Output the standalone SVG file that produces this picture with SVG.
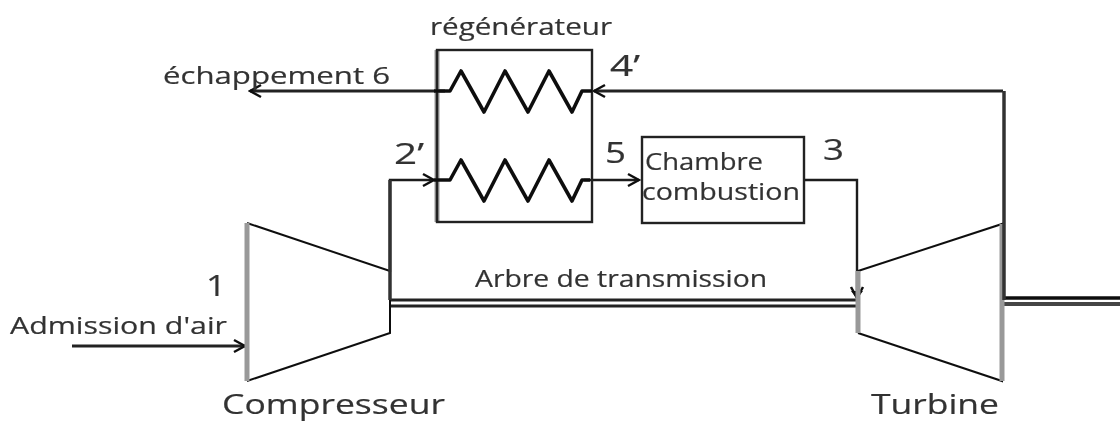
<svg xmlns="http://www.w3.org/2000/svg" width="1120" height="421" viewBox="0 0 1120 421">
<defs>
<marker id="a" markerUnits="userSpaceOnUse" markerWidth="16" markerHeight="16" refX="14" refY="8" orient="auto"><path d="M3 2L14 8L3 14" fill="none" stroke="#111" stroke-width="2.5"/></marker>
<filter id="b" x="0" y="0" width="1" height="1" filterUnits="objectBoundingBox"><feGaussianBlur stdDeviation=".55"/></filter>
</defs>
<style>
text{font-family:"Open Sans","Noto Sans","Liberation Sans",sans-serif;fill:#333;stroke:#333;stroke-width:.2}
.s{fill:none;stroke:#1a1a1a;stroke-width:2.4}
.m{fill:none;stroke:#222;stroke-width:3.2}
.g{fill:none;stroke:#999;stroke-width:5}
.z{fill:none;stroke:#111;stroke-width:3.6;stroke-linejoin:round}
</style>
<rect width="1120" height="421" fill="#fff"/>
<g filter="url(#b)">
<rect width="1120" height="421" fill="#fff"/>
<g id="connectors">
<path class="m" d="M1003 91H594" marker-end="url(#a)"/>
<path class="m" d="M445 91H250" marker-end="url(#a)"/>
<path class="s" d="M390 272V180H434" marker-end="url(#a)"/>
<path class="s" d="M584 180H639" marker-end="url(#a)"/>
<path class="s" d="M805 180H857V298" marker-end="url(#a)"/>
<path d="M851 291H863L857 299Z" fill="#111"/>
<path class="m" d="M72 346H245" marker-end="url(#a)"/>
<path fill="none" stroke="#222" stroke-width="3.2" d="M391 300H857M391 306H857"/>
<path fill="none" stroke="#111" stroke-width="3.4" d="M1003 298H1120"/>
<path fill="none" stroke="#444" stroke-width="3.8" d="M1003 304H1120"/>
</g>
<g id="regenerateur">
<path class="g" stroke-width="3" d="M437 50V222"/>
<rect x="437" y="50" width="155" height="172" fill="none" stroke="#222" stroke-width="2.4"/>
<path class="z" d="M434 91H450L461 71L484 112L505 71L528 112L549 71L572 112L582 91H592"/>
<path class="z" d="M434 180H450L461 160L484 201L505 160L528 201L549 160L572 201L582 180H590"/>
<text x="430" y="35" font-size="24" textLength="182" lengthAdjust="spacingAndGlyphs">régénérateur</text>
</g>
<g id="chambre">
<rect x="642" y="137" width="162" height="86" fill="none" stroke="#222" stroke-width="2.4"/>
<text x="645" y="170" font-size="23" textLength="118" lengthAdjust="spacingAndGlyphs">Chambre</text>
<text x="642" y="200" font-size="23" textLength="158" lengthAdjust="spacingAndGlyphs">combustion</text>
</g>
<g id="compresseur">
<path d="M247 223L390 271V333L247 381" fill="none" stroke="#111" stroke-width="2"/>
<path class="g" d="M247 223V381"/>
<path d="M390 180V300" fill="none" stroke="#333" stroke-width="3.5"/>
<text x="222" y="414" font-size="28" textLength="223" lengthAdjust="spacingAndGlyphs">Compresseur</text>
</g>
<g id="turbine">
<path d="M858 271L1002 224V381L858 333" fill="none" stroke="#111" stroke-width="2"/>
<path class="g" d="M858 271V333M1002 224V381"/>
<path d="M1004 91V300" fill="none" stroke="#333" stroke-width="3.5"/>
<text x="871" y="414" font-size="28" textLength="128" lengthAdjust="spacingAndGlyphs">Turbine</text>
</g>
<g id="labels">
<text x="163" y="84" font-size="24" textLength="227" lengthAdjust="spacingAndGlyphs">échappement 6</text>
<text x="394" y="164" font-size="29" textLength="30" lengthAdjust="spacingAndGlyphs">2’</text>
<text x="610" y="76" font-size="29" textLength="30" lengthAdjust="spacingAndGlyphs">4’</text>
<text x="605" y="163" font-size="29" textLength="21" lengthAdjust="spacingAndGlyphs">5</text>
<text x="823" y="160" font-size="29" textLength="21" lengthAdjust="spacingAndGlyphs">3</text>
<text x="206" y="296" font-size="29" textLength="20" lengthAdjust="spacingAndGlyphs">1</text>
<text x="10" y="334" font-size="24" textLength="217" lengthAdjust="spacingAndGlyphs">Admission d'air</text>
<text x="475" y="287" font-size="24" textLength="292" lengthAdjust="spacingAndGlyphs">Arbre de transmission</text>
</g>
</g>
</svg>
